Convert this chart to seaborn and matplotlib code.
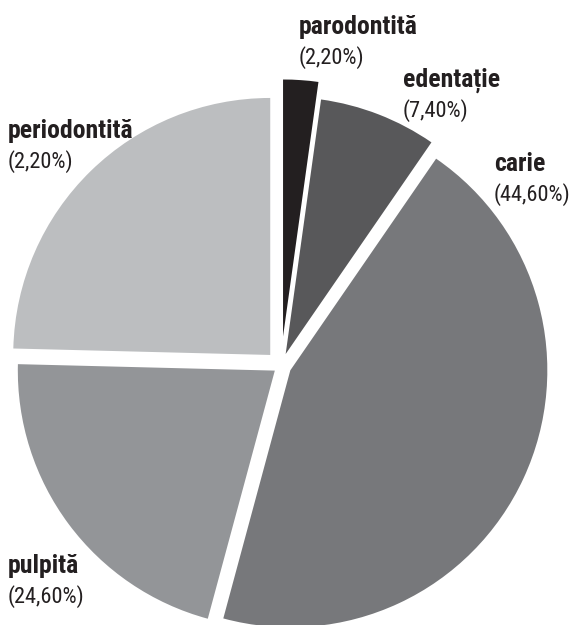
import os
import matplotlib
matplotlib.use("Agg")
import matplotlib.pyplot as plt
import seaborn as sns
from matplotlib import font_manager
from matplotlib.font_manager import FontProperties

sns.set_theme(style="white")

# Data (order: clockwise from 12 o'clock)
categories = ["parodontită", "edentație", "carie", "pulpită", "periodontită"]
values = [2.2, 7.4, 44.6, 21.2, 24.6]          # slice sizes as drawn
value_labels = ["(2,20%)", "(7,40%)", "(44,60%)", "(24,60%)", "(2,20%)"]

colors = ["#231f20", "#58585a", "#77787b", "#939598", "#bcbec0"]
explode = [0.115, 0.05, 0.04, 0.03, 0.06]

# pick a condensed font file if present
files = [f.fname for f in font_manager.fontManager.ttflist]
def find(keys):
    for k in keys:
        for f in files:
            if os.path.basename(f).lower() == k.lower():
                return f
    return None

cands = [
    (["LiberationSansNarrow-Regular.ttf"], ["LiberationSansNarrow-Bold.ttf"]),
    (["RobotoCondensed-Regular.ttf"], ["RobotoCondensed-Bold.ttf"]),
    (["OpenSans_Condensed-Regular.ttf", "OpenSansCondensed-Regular.ttf"],
     ["OpenSans_Condensed-Bold.ttf", "OpenSansCondensed-Bold.ttf"]),
    (["DejaVuSansCondensed.ttf"], ["DejaVuSansCondensed-Bold.ttf"]),
]
fp_reg = fp_bold = None
for r, b in cands:
    rr, bb = find(r), find(b)
    if rr and bb:
        fp_reg = FontProperties(fname=rr)
        fp_bold = FontProperties(fname=bb)
        break
if fp_reg is None:
    fp_reg = FontProperties(family="DejaVu Sans")
    fp_bold = FontProperties(family="DejaVu Sans", weight="bold")

W, H = 573, 625
fig = plt.figure(figsize=(W / 100, H / 100), dpi=100)
ax = fig.add_axes([0, 0, 1, 1])
R = 257.0
cx, cy = 281.0, 366.0  # pie centre in pixels from top-left

ax.pie(values, colors=colors, explode=explode, startangle=90, counterclock=False,
       radius=1, wedgeprops=dict(linewidth=0))
ax.set_aspect("auto")
ax.set_xlim(-cx / R, (W - cx) / R)
ax.set_ylim(-(H - cy) / R, cy / R)
ax.axis("off")

# fit font sizes to (slightly above) the reference text widths
renderer = fig.canvas.get_renderer()
def fit(fp, s, target):
    fp.set_size(18)
    t = fig.text(0, 0, s, fontproperties=fp)
    w = t.get_window_extent(renderer).width
    t.remove()
    return min(20.0, 18.0 * target / w)

fs_b = fit(fp_bold, "parodontită", 119.0)
fs_r = fit(fp_reg, "(24,60%)", 77.0)
fp_bold.set_size(fs_b)
fp_reg.set_size(fs_r)

def px(x, y):
    return (x - cx) / R, (cy - y) / R

# label positions (pixel coords of left, baseline of bold line)
label_pos = [(299, 34), (403, 87), (494, 171), (8, 573), (8, 138)]
tc = "#231f20"
for name, vl, (x, y) in zip(categories, value_labels, label_pos):
    ax.text(*px(x, y), name, fontproperties=fp_bold, color=tc,
            ha="left", va="baseline")
    ax.text(*px(x, y + 30), vl, fontproperties=fp_reg, color=tc,
            ha="left", va="baseline")

fig.savefig("out.png", dpi=100, facecolor="white")
